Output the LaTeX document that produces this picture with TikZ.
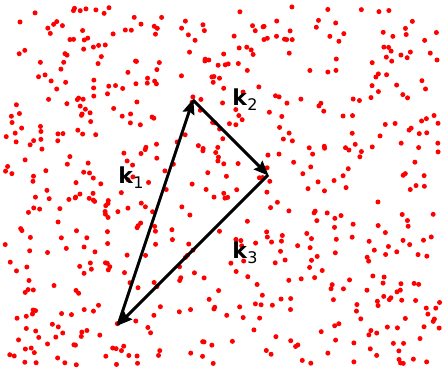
\documentclass[tikz,border=0pt]{standalone}
\usepackage{fontspec}
\setmainfont{DejaVu Sans}
\usetikzlibrary{arrows.meta}
\tikzset{
  dot/.style={fill=red, draw=none},
  vec/.style={line width=2.9pt, -{Stealth[length=15pt,width=12pt,inset=2pt]}, shorten >=-1pt},
  lab/.style={font=\fontsize{22}{26}\selectfont, inner sep=0pt}
}
\newcommand{\kvec}[1]{\textbf{k}\raisebox{-5pt}{\fontsize{16}{18}\selectfont #1}}
\begin{document}
\begin{tikzpicture}[x=1pt,y=1pt]
\useasboundingbox (0,0) rectangle (445,370);
\pgfmathsetseed{4242}
\foreach \i in {1,...,610}{
  \pgfmathsetmacro{\px}{5+435*rnd}
  \pgfmathsetmacro{\py}{5+360*rnd}
  \fill[dot] (\px,\py) circle (2.5);
}
\coordinate (A) at (118,45);
\coordinate (B) at (193,270);
\coordinate (C) at (268,195);
\draw[vec] (A) -- (B);
\draw[vec] (B) -- (C);
\draw[vec] (C) -- (A);
\node[lab] (k1) at (131,192) {\kvec{1}};
\node[lab] (k2) at (245,270) {\kvec{2}};
\node[lab] (k3) at (245,117) {\kvec{3}};
\end{tikzpicture}
\end{document}
